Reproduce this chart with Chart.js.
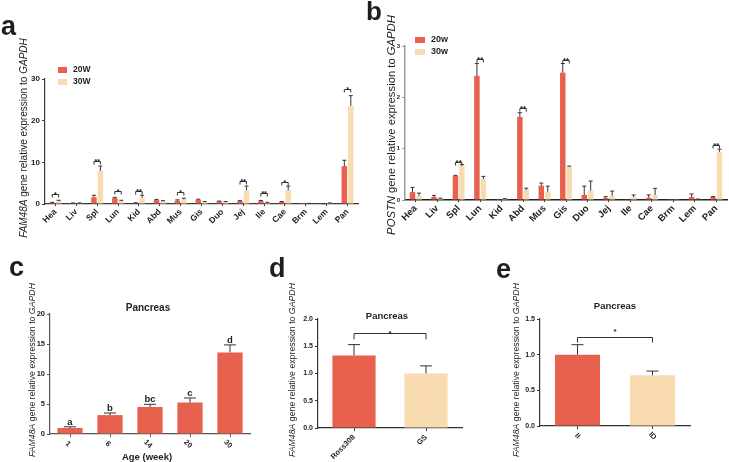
<!DOCTYPE html>
<html><head><meta charset="utf-8">
<script src="https://cdn.jsdelivr.net/npm/chart.js@4.4.0/dist/chart.umd.min.js"></script>
<style>
html,body{margin:0;padding:0;background:#fff;}
#wrap{position:relative;width:729px;height:462px;overflow:hidden;background:#fff;}
#wrap canvas{position:absolute;}
</style></head><body>
<div id="wrap">
<canvas id="ca" width="365" height="250" style="left:0;top:0"></canvas>
<canvas id="cb" width="364" height="250" style="left:365px;top:0"></canvas>
<canvas id="cc" width="260" height="212" style="left:0;top:250px"></canvas>
<canvas id="cd" width="240" height="212" style="left:250px;top:250px"></canvas>
<canvas id="ce" width="249" height="212" style="left:480px;top:250px"></canvas>
</div>
<script>
// ---------- DATA ----------
const tissues = ['Hea','Liv','Spl','Lun','Kid','Abd','Mus','Gis','Duo','Jej','Ile','Cae','Brm','Lem','Pan'];
// panel a: FAM48A
const famA20 = [0.3,0.2,1.6,1.4,0.2,1.0,0.8,1.0,0.6,0.7,0.7,0.5,0.03,0.05,9.1];
const famA20Err = [0.1,0.05,0.5,0.2,0.1,0.1,0.2,0.15,0.1,0.1,0.15,0.1,0,0.02,1.4];
const famA30 = [0.8,0.2,7.9,0.7,1.5,0.7,1.1,0.5,0.4,3.3,0.3,3.3,0.1,0.2,23.6];
const famA30Err = [0.1,0.05,1.2,0.2,0.6,0.1,0.3,0.1,0.2,1.0,0.1,1.0,0.05,0.05,2.4];
const famASig = ['*','','**','*','**','','*','','','**','**','*','','','*'];
const famASigLevel = [2.3,0,10.3,3.2,3.2,0,2.9,0,0,5.5,2.7,5.3,0,0,27.6];
const famATicks = [0,10,20,30];
// panel b: POSTN
const postn20 = [0.155,0.06,0.47,2.42,0.005,1.62,0.28,2.48,0.10,0.04,0.013,0.045,0.005,0.058,0.058];
const postn20Err = [0.09,0.03,0.01,0.24,0,0.08,0.05,0.18,0.17,0.025,0,0.055,0,0.06,0.01];
const postn30 = [0.084,0.026,0.68,0.41,0.02,0.19,0.16,0.65,0.18,0.084,0.058,0.097,0.005,0.013,0.94];
const postn30Err = [0.05,0.01,0.01,0.05,0.005,0.04,0.11,0.01,0.19,0.09,0.04,0.13,0,0.005,0.05];
const postnSig = ['','','**','**','','**','','**','','','','','','','**'];
const postnSigLevel = [0,0,0.75,2.75,0,1.8,0,2.72,0,0,0,0,0,0,1.07];
// panel c: pancreas by age
const ageWeeks = ['1','6','14','20','30'];
const ageExpr = [1.0,3.15,4.5,5.25,13.6];
const ageErr = [0.2,0.35,0.45,0.75,1.25];
const ageLetters = ['a','b','bc','c','d'];
// panel d: breeds
const breeds = ['Ross308','GS'];
const breedExpr = [1.33,1.0];
const breedErr = [0.2,0.14];
const breedSigLevel = 1.75;
// panel e: genotypes
const genotypes = ['II','ID'];
const genoExpr = [1.0,0.71];
const genoErr = [0.14,0.06];
const genoSigLevel = 1.25;

// ---------- STYLE ----------
const RED = '#e8604e', BEIGE = '#f9dbb2', TXT = '#1e1e1e', AX = '#3a3a3a';
const FF = "'Liberation Sans', Arial, sans-serif";
const famTitle = [{t:'FAM48A',i:true},{t:' gene relative expression to ',i:false},{t:'GAPDH',i:true}];
const postnTitle = [{t:'POSTN',i:true},{t:' gene relative expression to ',i:false},{t:'GAPDH',i:true}];

function fnt(size, bold, italic){ return (italic?'italic ':'')+(bold?'bold ':'')+size+'px '+FF; }

const deco = {
  id:'deco',
  afterDatasetsDraw(chart, args, o){
    const ctx = chart.ctx, ys = chart.scales.y;
    ctx.save();
    ctx.strokeStyle = o.errColor || '#333';
    ctx.lineWidth = o.errWidth || 1;
    (o.errors||[]).forEach((errs, di)=>{
      const meta = chart.getDatasetMeta(di), vals = chart.data.datasets[di].data;
      meta.data.forEach((el,j)=>{
        const e = errs[j]; if(!e) return;
        const yt = ys.getPixelForValue(vals[j]+e);
        ctx.beginPath();
        ctx.moveTo(el.x, el.y); ctx.lineTo(el.x, yt);
        ctx.moveTo(el.x-o.cap/2, yt); ctx.lineTo(el.x+o.cap/2, yt);
        ctx.stroke();
      });
    });
    // brackets
    ctx.strokeStyle = o.brColor || '#333'; ctx.lineWidth = 1;
    (o.brackets||[]).forEach(b=>{
      const e1 = chart.getDatasetMeta(b.a[0]).data[b.a[1]];
      const e2 = chart.getDatasetMeta(b.b[0]).data[b.b[1]];
      const yb = Math.round(ys.getPixelForValue(b.level))+0.5;
      ctx.beginPath();
      ctx.moveTo(e1.x, yb+o.brTick); ctx.lineTo(e1.x, yb); ctx.lineTo(e2.x, yb); ctx.lineTo(e2.x, yb+o.brTick);
      ctx.stroke();
      ctx.fillStyle = TXT; ctx.font = o.starFont; ctx.textAlign='center'; ctx.textBaseline='alphabetic';
      ctx.fillText(b.mark, (e1.x+e2.x)/2, yb + o.starDy);
    });
    // letters
    if(o.letters){
      const meta = chart.getDatasetMeta(0), vals = chart.data.datasets[0].data;
      ctx.fillStyle = TXT; ctx.font = o.letterFont; ctx.textAlign='center'; ctx.textBaseline='alphabetic';
      meta.data.forEach((el,j)=>{
        const yt = ys.getPixelForValue(vals[j]+(o.errors[0][j]||0));
        ctx.fillText(o.letters[j], el.x, yt-2);
      });
    }
    ctx.restore();
  },
  afterDraw(chart, args, o){
    const ctx = chart.ctx;
    ctx.save();
    ctx.fillStyle = TXT;
    // panel label
    if(o.panel){ ctx.font = fnt(o.panel.size,true); ctx.textAlign='left'; ctx.textBaseline='alphabetic'; ctx.fillText(o.panel.t, o.panel.x, o.panel.y); }
    // title
    if(o.title){ ctx.font = o.title.font; ctx.textAlign='center'; ctx.textBaseline='middle'; ctx.fillText(o.title.t, o.title.x, o.title.y); }
    // x-axis title
    if(o.xtitle){ ctx.font = o.xtitle.font; ctx.textAlign='center'; ctx.textBaseline='middle'; ctx.fillText(o.xtitle.t, o.xtitle.x, o.xtitle.y); }
    // y title (rotated, mixed italic)
    if(o.ytitle){
      const yt = o.ytitle;
      let size = 10, w = 0;
      const meas = s=>{ let t=0; yt.parts.forEach(p=>{ ctx.font=fnt(s,yt.bold,p.i); t+=ctx.measureText(p.t).width; }); return t; };
      w = meas(size); size = size*yt.len/w; w = meas(size);
      ctx.translate(yt.x, yt.y); ctx.rotate(-Math.PI/2);
      ctx.textAlign='left'; ctx.textBaseline='middle';
      let x = -w/2;
      yt.parts.forEach(p=>{ ctx.font=fnt(size,yt.bold,p.i); ctx.fillText(p.t, x, 0); x += ctx.measureText(p.t).width; });
      ctx.setTransform(1,0,0,1,0,0);
    }
    // legend
    if(o.legend){
      const L = o.legend;
      L.items.forEach(it=>{
        ctx.fillStyle = it.c; ctx.fillRect(L.x, it.y-L.bh/2, L.bw, L.bh);
        ctx.fillStyle = TXT; ctx.font = L.font; ctx.textAlign='left'; ctx.textBaseline='middle';
        ctx.fillText(it.t, L.x+L.bw+L.gap, it.y);
      });
    }
    // custom rotated x labels (clockwise)
    if(o.xlabels){
      const xs = chart.scales.x, X = o.xlabels;
      ctx.font = X.font; ctx.fillStyle = TXT; ctx.textAlign='center'; ctx.textBaseline='middle';
      chart.data.labels.forEach((lab,i)=>{
        const px = xs.getPixelForTick(i);
        ctx.save(); ctx.translate(px+X.dx, chart.chartArea.bottom+X.dy); ctx.rotate(Math.PI/4);
        ctx.fillText(lab, 0, 0); ctx.restore();
      });
    }
    ctx.restore();
  }
};
Chart.register(deco);

function makeOpts(c){
  return {
    responsive:false, animation:false, devicePixelRatio:1,
    layout:{padding:{left:0,right:c.pr,top:c.pt,bottom:0}},
    plugins:{legend:{display:false}, tooltip:{enabled:false}, deco:c.deco},
    scales:{
      x:{
        grid:{display:true, drawOnChartArea:false, offset:false, tickLength:c.xtick, color:c.axColor, lineWidth:1},
        border:{display:true, color:c.axColor, width:c.axWidth},
        ticks:{display:c.xTicksShow, autoSkip:false, maxRotation:45, minRotation:45, padding:c.xpad||1, color:TXT, font:{family:FF, size:c.xfs, weight:'bold'}},
        afterFit:s=>{s.height=c.xh;}
      },
      y:{
        min:0, max:c.ymax,
        afterBuildTicks:s=>{s.ticks = c.yticks.map(v=>({value:v}));},
        grid:{display:true, drawOnChartArea:false, tickLength:3, color:c.yaxColor||c.axColor, lineWidth:1},
        border:{display:true, color:c.yaxColor||c.axColor, width:c.axWidth},
        ticks:{padding:2, color:TXT, font:{family:FF, size:c.yfs, weight:'bold'}, callback:c.yfmt||(v=>v)},
        afterFit:s=>{s.width=c.yw;}
      }
    }
  };
}

function bracketsGrouped(sig, lev){
  const out=[]; sig.forEach((m,j)=>{ if(m) out.push({a:[0,j], b:[1,j], level:lev[j], mark:m}); }); return out;
}

// ---- panel a ----
new Chart(document.getElementById('ca'), {
  type:'bar',
  data:{labels:tissues, datasets:[
    {data:famA20, backgroundColor:RED, categoryPercentage:0.62, barPercentage:0.85},
    {data:famA30, backgroundColor:BEIGE, categoryPercentage:0.62, barPercentage:0.85}
  ]},
  options:makeOpts({pr:7, pt:79, yw:45, xh:46, ymax:30, yticks:famATicks, xfs:8.5, yfs:8, xtick:2, axColor:AX, axWidth:1.2, xTicksShow:true,
    deco:{errors:[famA20Err,famA30Err], cap:4, errColor:'#333',
      brackets:bracketsGrouped(famASig, famASigLevel), brTick:3, starFont:fnt(7,true), starDy:2,
      panel:{t:'a', x:1, y:35, size:27},
      ytitle:{x:24, y:138, len:200, parts:famTitle, bold:false},
      legend:{x:58, bw:9, bh:6, gap:6, font:fnt(8.5,true), items:[{c:RED,t:'20W',y:70},{c:BEIGE,t:'30W',y:82}]}
    }})
});

// ---- panel b ----
new Chart(document.getElementById('cb'), {
  type:'bar',
  data:{labels:tissues, datasets:[
    {data:postn20, backgroundColor:RED, categoryPercentage:0.6, barPercentage:0.85},
    {data:postn30, backgroundColor:BEIGE, categoryPercentage:0.6, barPercentage:0.85}
  ]},
  options:makeOpts({pr:2, pt:46, yw:40, xh:50, ymax:3, yticks:[0,1,2,3], xfs:9.5, yfs:6, xtick:2, axColor:'#222', yaxColor:'#9a9a9a', axWidth:1.5, xTicksShow:true,
    deco:{errors:[postn20Err,postn30Err], cap:4, errColor:'#333',
      brackets:bracketsGrouped(postnSig, postnSigLevel), brTick:3, starFont:fnt(8,true), starDy:2,
      panel:{t:'b', x:1, y:20, size:26},
      ytitle:{x:27, y:125, len:220, parts:postnTitle, bold:false},
      legend:{x:50, bw:10, bh:6, gap:6, font:fnt(9,true), items:[{c:RED,t:'20w',y:40},{c:BEIGE,t:'30w',y:52}]}
    }})
});

// ---- panel c ----
new Chart(document.getElementById('cc'), {
  type:'bar',
  data:{labels:ageWeeks, datasets:[
    {data:ageExpr, backgroundColor:RED, categoryPercentage:0.63, barPercentage:1}
  ]},
  options:makeOpts({pr:10, pt:64, yw:50, xh:28, ymax:20, yticks:[0,5,10,15,20], xfs:7.5, yfs:7.5, xtick:3, axColor:'#555', axWidth:1.2, xTicksShow:false,
    deco:{errors:[ageErr], cap:12, errColor:'#333', letters:ageLetters, letterFont:fnt(9.5,true),
      panel:{t:'c', x:9, y:26, size:27},
      title:{t:'Pancreas', x:148, y:58, font:fnt(10,true)},
      xtitle:{t:'Age (week)', x:147, y:207, font:fnt(9.5,true)},
      xlabels:{font:fnt(7.5,true), dx:-2, dy:10},
      ytitle:{x:33, y:120, len:174, parts:famTitle, bold:false}
    }})
});

// ---- panel d ----
new Chart(document.getElementById('cd'), {
  type:'bar',
  data:{labels:breeds, datasets:[
    {data:breedExpr, backgroundColor:[RED,BEIGE], categoryPercentage:0.6, barPercentage:1}
  ]},
  options:makeOpts({pr:28, pt:69, yw:68, xh:34, ymax:2, yticks:[0,0.5,1,1.5,2], xfs:7.5, yfs:7, xtick:3, axColor:'#333', axWidth:1.2, xTicksShow:true, xpad:2,
    yfmt:v=>Number(v).toFixed(1),
    deco:{errors:[breedErr], cap:12, errColor:'#333',
      brackets:[{a:[0,0], b:[0,1], level:breedSigLevel, mark:'*'}], brTick:6, starFont:fnt(8,true), starDy:2,
      panel:{t:'d', x:19, y:27, size:27},
      title:{t:'Pancreas', x:137, y:66, font:fnt(9.5,true)},
      ytitle:{x:43, y:120, len:174, parts:famTitle, bold:false}
    }})
});

// ---- panel e ----
new Chart(document.getElementById('ce'), {
  type:'bar',
  data:{labels:genotypes, datasets:[
    {data:genoExpr, backgroundColor:[RED,BEIGE], categoryPercentage:0.6, barPercentage:1}
  ]},
  options:makeOpts({pr:39, pt:69, yw:60, xh:36, ymax:1.5, yticks:[0,0.5,1,1.5], xfs:7.5, yfs:7, xtick:3, axColor:'#333', axWidth:1.2, xTicksShow:false,
    yfmt:v=>Number(v).toFixed(1),
    deco:{errors:[genoErr], cap:12, errColor:'#333',
      brackets:[{a:[0,0], b:[0,1], level:genoSigLevel, mark:'*'}], brTick:5, starFont:fnt(8,true), starDy:-4,
      panel:{t:'e', x:16, y:28, size:27},
      title:{t:'Pancreas', x:135, y:56, font:fnt(9.5,true)},
      xlabels:{font:fnt(7.5,true), dx:0, dy:10},
      ytitle:{x:37, y:120, len:174, parts:famTitle, bold:false}
    }})
});
</script>
</body></html>
